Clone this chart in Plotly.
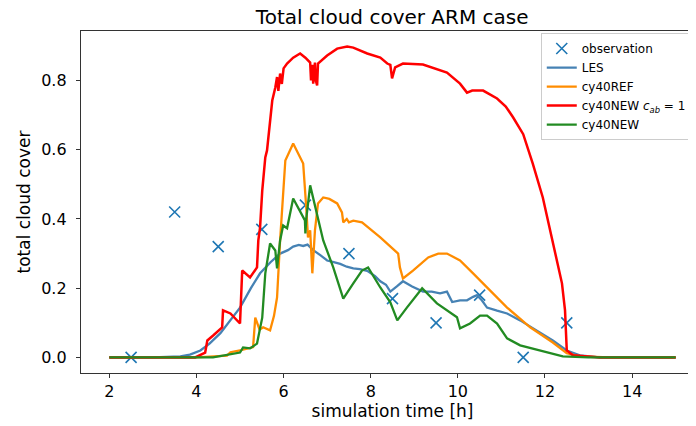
import plotly.graph_objects as go

# observation points
obs_t = [2.5, 3.5, 4.5, 5.5, 6.5, 7.5, 8.5, 9.5, 10.5, 11.5, 12.5]
obs_v = [0.0, 0.42, 0.32, 0.37, 0.44, 0.30, 0.17, 0.10, 0.18, 0.0, 0.10]

# LES
les_t = [2.0, 3.0, 3.63, 3.85, 4.09, 4.3, 4.55, 4.8, 5.0, 5.25, 5.46, 5.7, 5.92, 6.1, 6.22, 6.35, 6.45,
         6.55, 6.68, 6.85, 7.0, 7.15, 7.3, 7.45, 7.6, 7.75, 7.92, 8.1, 8.22, 8.35, 8.45, 8.6, 8.74,
         8.95, 9.2, 9.4, 9.59, 9.75, 9.87, 10.05, 10.21, 10.35, 10.44, 10.55, 10.67, 10.9, 11.13,
         11.43, 11.82, 12.18, 12.5, 12.8, 13.26, 14.0, 15.0]
les_v = [0.0, 0.0, 0.003, 0.008, 0.02, 0.04, 0.07, 0.11, 0.144, 0.2, 0.243, 0.275, 0.30, 0.31, 0.32,
         0.325, 0.322, 0.326, 0.31, 0.295, 0.28, 0.275, 0.27, 0.262, 0.257, 0.255, 0.25, 0.235,
         0.22, 0.21, 0.19, 0.205, 0.22, 0.205, 0.19, 0.19, 0.185, 0.19, 0.16, 0.165, 0.165, 0.175,
         0.18, 0.165, 0.144, 0.135, 0.127, 0.107, 0.078, 0.049, 0.02, 0.006, 0.0, 0.0, 0.0]

# cy40REF
ref_t = [2.0, 4.0, 4.7, 4.78, 5.0, 5.23, 5.3, 5.35, 5.45, 5.53, 5.69, 5.78, 5.85, 5.92, 6.04, 6.22,
         6.45, 6.52, 6.56, 6.61, 6.66, 6.72, 6.79, 6.91, 7.05, 7.23, 7.34, 7.37, 7.45, 7.5, 7.6,
         7.8, 8.22, 8.63, 8.67, 8.74, 8.97, 9.32, 9.55, 9.75, 10.05, 10.35, 10.67, 11.13, 11.66,
         12.18, 12.5, 12.8, 13.5, 15.0]
ref_v = [0.0, 0.0, 0.005, 0.015, 0.02, 0.026, 0.03, 0.115, 0.08, 0.087, 0.078, 0.12, 0.173, 0.338,
         0.569, 0.618, 0.56, 0.433, 0.347, 0.367, 0.243, 0.367, 0.445, 0.462, 0.458, 0.445, 0.419,
         0.39, 0.40, 0.39, 0.395, 0.39, 0.347, 0.30, 0.26, 0.228, 0.251, 0.289, 0.30, 0.30, 0.28,
         0.243, 0.202, 0.144, 0.087, 0.043, 0.012, 0.003, 0.0, 0.0]

# cy40NEW c_ab = 1
cab_t = [2.0, 3.97, 4.2, 4.25, 4.39, 4.59, 4.61, 4.78, 5.0, 5.05, 5.23, 5.39, 5.42, 5.46, 5.51,
         5.58, 5.62, 5.74, 5.81, 5.85, 5.88, 5.92, 5.96, 6.0, 6.08, 6.22, 6.38, 6.5, 6.61, 6.63,
         6.66, 6.68, 6.72, 6.74, 6.77, 6.79, 7.0, 7.23, 7.46, 7.6, 7.92, 8.22, 8.38, 8.45, 8.49,
         8.56, 8.74, 9.2, 9.75, 10.05, 10.21, 10.33, 10.58, 10.9, 11.1, 11.27, 11.5, 11.72, 11.95,
         12.18, 12.39, 12.46, 12.5, 12.64, 13.26, 15.0]
cab_v = [0.0, 0.0, 0.014, 0.049, 0.064, 0.087, 0.136, 0.127, 0.098, 0.251, 0.231, 0.26, 0.338,
         0.375, 0.482, 0.578, 0.598, 0.742, 0.78, 0.81, 0.77, 0.82, 0.79, 0.835, 0.849, 0.866,
         0.878, 0.866, 0.852, 0.80, 0.845, 0.791, 0.852, 0.80, 0.786, 0.849, 0.872, 0.892, 0.898,
         0.895, 0.878, 0.866, 0.849, 0.845, 0.806, 0.838, 0.849, 0.846, 0.823, 0.791, 0.765, 0.771,
         0.771, 0.748, 0.725, 0.693, 0.645, 0.56, 0.462, 0.329, 0.214, 0.136, 0.02, 0.006, 0.0, 0.0]

# cy40NEW
new_t = [2.0, 4.38, 5.0, 5.07, 5.23, 5.39, 5.51, 5.58, 5.69, 5.81, 5.85, 5.92, 5.99, 6.08, 6.22,
         6.33, 6.49, 6.5, 6.52, 6.61, 6.77, 6.91, 7.14, 7.37, 7.6, 7.8, 7.94, 8.22, 8.45, 8.61,
         8.83, 9.18, 9.52, 9.98, 10.05, 10.28, 10.51, 10.67, 10.9, 11.13, 11.43, 11.89, 12.41,
         13.0, 15.0]
new_v = [0.0, 0.0, 0.014, 0.029, 0.026, 0.04, 0.115, 0.243, 0.329, 0.309, 0.257, 0.338, 0.381,
         0.373, 0.459, 0.433, 0.396, 0.358, 0.40, 0.497, 0.416, 0.338, 0.26, 0.17, 0.214, 0.251,
         0.26, 0.202, 0.159, 0.107, 0.144, 0.2, 0.156, 0.116, 0.084, 0.098, 0.121, 0.121, 0.098,
         0.055, 0.035, 0.02, 0.003, 0.0, 0.0]

font = 'DejaVu Sans'

fig = go.Figure()
fig.add_trace(go.Scatter(x=obs_t, y=obs_v, mode='markers', name='observation',
                         marker=dict(symbol='x-thin', size=11, color='#1f77b4',
                                     line=dict(width=1.6, color='#1f77b4'))))
fig.add_trace(go.Scatter(x=les_t, y=les_v, mode='lines', name='LES',
                         line=dict(color='#4682B4', width=2.3)))
fig.add_trace(go.Scatter(x=ref_t, y=ref_v, mode='lines', name='cy40REF',
                         line=dict(color='#FF8C00', width=2.3)))
fig.add_trace(go.Scatter(x=cab_t, y=cab_v, mode='lines',
                         name='cy40NEW <i>c</i><sub><i>ab</i></sub> = 1',
                         line=dict(color='#FF0000', width=2.5)))
fig.add_trace(go.Scatter(x=new_t, y=new_v, mode='lines', name='cy40NEW',
                         line=dict(color='#228B22', width=2.3)))

# the page body adds an 8px offset, so the figure is laid out 8px up/left
fig.update_layout(
    width=696, height=426,
    margin=dict(l=73, r=0, t=23, b=61, autoexpand=False),
    plot_bgcolor='white', paper_bgcolor='white',
    font=dict(family=font, color='black'),
    title=dict(text='Total cloud cover ARM case', font=dict(size=20),
               x=0.552, xref='container', xanchor='center',
               y=0.98, yref='container', yanchor='middle', automargin=False),
    legend=dict(x=0.738, y=0.994, xanchor='left', yanchor='top',
                bgcolor='rgba(255,255,255,0.8)', bordercolor='#cccccc', borderwidth=1,
                font=dict(size=12), itemwidth=30, tracegroupgap=0),
)
fig.update_xaxes(range=[1.35, 15.65], tickvals=[2, 4, 6, 8, 10, 12, 14],
                 ticks='outside', ticklen=4, tickwidth=1.2, tickcolor='#333',
                 tickfont=dict(size=16), automargin=False,
                 showline=True, linecolor='#333', linewidth=1.3, mirror=True,
                 showgrid=False, zeroline=False,
                 title=dict(text='simulation time [h]', font=dict(size=17), standoff=2))
fig.update_yaxes(range=[-0.045, 0.943], tickvals=[0, 0.2, 0.4, 0.6, 0.8], tickformat='.1f',
                 ticks='outside', ticklen=4, tickwidth=1.2, tickcolor='#333',
                 tickfont=dict(size=16), automargin=False, ticklabelstandoff=6,
                 showline=True, linecolor='#333', linewidth=1.3,
                 showgrid=False, zeroline=False,
                 title=dict(text='total cloud cover', font=dict(size=17), standoff=6))

fig.write_html("out.html")
